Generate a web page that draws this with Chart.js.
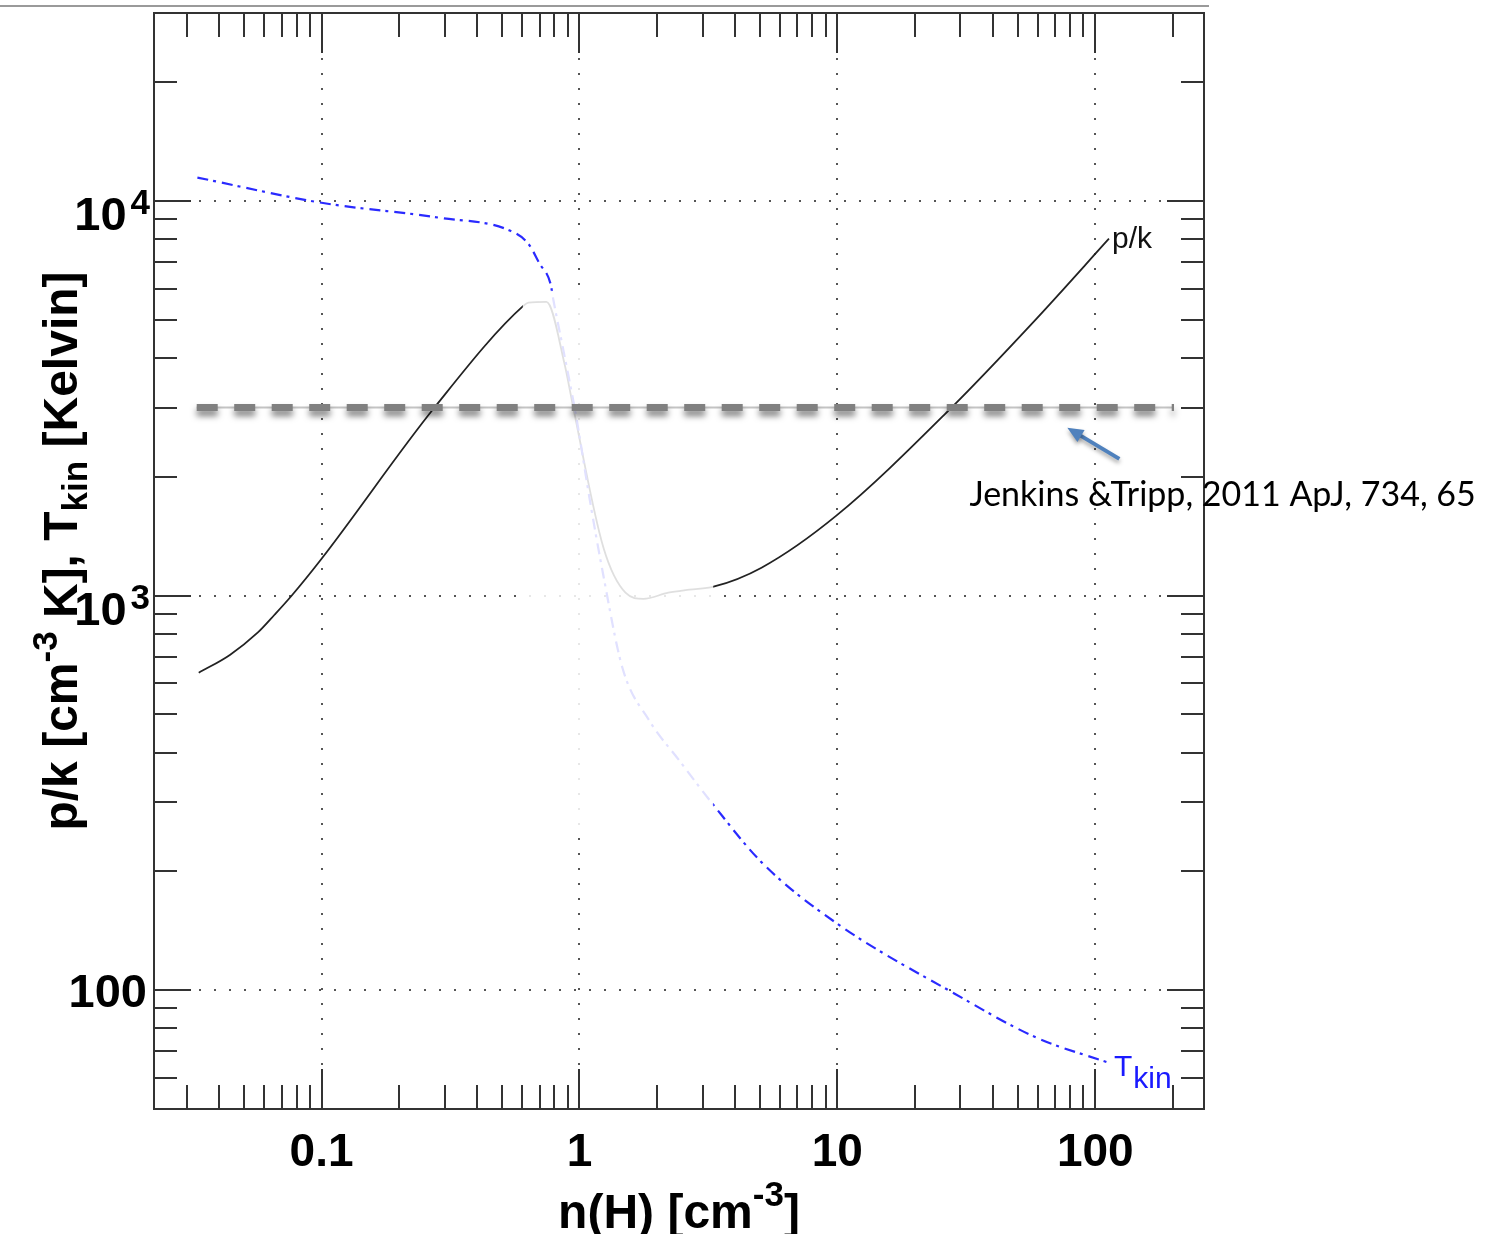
<!DOCTYPE html>
<html>
<head>
<meta charset="utf-8">
<title>p/k and T_kin vs n(H)</title>
<script src="https://cdn.jsdelivr.net/npm/chart.js@4.4.1/dist/chart.umd.min.js"></script>
<style>
  html, body { margin: 0; padding: 0; background: #fff; }
  #wrap { width: 1493px; height: 1234px; position: relative; }
</style>
</head>
<body>
<div id="wrap"><canvas id="chartJSContainer"></canvas></div>
<script>
  // n(H) [cm^-3] and p/k [cm^-3 K]
  var pkDens = [0.0334, 0.0441, 0.0565, 0.0657, 0.0765, 0.1, 0.274, 0.607, 0.634, 0.745, 0.875, 0.948, 1.239, 1.508, 1.77, 2.21, 2.67, 3.31, 5.08, 9.91, 27.4, 59.1, 113]
  var pkVals = [638, 708, 806, 895, 1000, 1241, 3000, 5435, 5535, 5560, 3873, 2978, 1323, 1018, 982, 1018, 1036, 1054, 1178, 1596, 2978, 5035, 8036]

  // n(H) and T_kin [K]
  var tDens = [0.033, 0.1, 0.287, 0.54, 0.634, 0.70, 0.772, 0.793, 0.875, 0.973, 1.093, 1.228, 1.468, 1.867, 2.44, 3.28, 5.12, 9.91, 28.5, 59.0, 115]
  var tVals = [11480, 9910, 9080, 8414, 7797, 6950, 6180, 5600, 4055, 2825, 1772, 1157, 656, 482, 382, 297, 210, 148, 98, 75.9, 65.2]

  // Jenkins & Tripp reference level
  var refDens = [0.0328, 202]
  var refVals = [3000, 3000]

  // axis ranges and labels
  var xRange = [0.0224, 264]
  var yRange = [50, 30000]
  var xLabelVals = [0.1, 1, 10, 100]
  var xLabelText = ['0.1', '1', '10', '100']
  var yLabelVals = [100, 1000, 10000]
  var yLabelBase = ['100', '10', '10']
  var yLabelExp = ['', '3', '4']

  // washed-out region of the picture (data units)
  var fadeDens = [0.603, 3.3]
  var fadeVals = [256, 5930]

  // arrow to the reference line: tail, head
  var arrowDens = [124, 77.9]
  var arrowVals = [2223, 2666]
  var noteDens = 32.5
  var noteVal = 1690
  var noteText = 'Jenkins &Tripp, 2011 ApJ, 734, 65'

  function isDecade(v) {
    var l = Math.log10(v)
    return Math.abs(l - Math.round(l)) < 1e-6
  }

  function logTicks(min, max) {
    var out = []
    for (var e = Math.floor(Math.log10(min)); e <= Math.ceil(Math.log10(max)); e++) {
      for (var k = 1; k <= 9; k++) {
        var v = k * Math.pow(10, e)
        if (v >= min * 0.999 && v <= max * 1.001) out.push(v)
      }
    }
    return out
  }

  var xTickVals = logTicks(xRange[0], xRange[1])
  var yTickVals = logTicks(yRange[0], yRange[1])

  function pts(xs, ys) {
    return xs.map(function (x, i) { return { x: x, y: ys[i] } })
  }

  var BOLD = 'bold 47px "Liberation Sans"'
  var TBOLD = 'bold 48px "Liberation Sans"'
  var TSUP = 'bold 35px "Liberation Sans"'

  function drawPieces(ctx, pieces, x0, y0) {
    var total = 0
    pieces.forEach(function (p) { ctx.font = p.f; p.w = ctx.measureText(p.t).width; total += p.w })
    var x = x0 - total / 2
    pieces.forEach(function (p) {
      ctx.font = p.f
      ctx.fillText(p.t, x, y0 + (p.dy || 0))
      x += p.w
    })
  }

  var decor = {
    id: 'decor',
    beforeDatasetDraw: function (chart, args) {
      if (args.index === 3) {
        var ctx = chart.ctx
        ctx.save()
        ctx.shadowColor = 'rgba(0,0,0,0.5)'
        ctx.shadowBlur = 6
        ctx.shadowOffsetY = 5
      }
    },
    afterDatasetDraw: function (chart, args) {
      var ctx = chart.ctx
      if (args.index === 3) ctx.restore()
      if (args.index === 1) {
        var xs = chart.scales.x, ys = chart.scales.y
        var x1 = xs.getPixelForValue(fadeDens[0]), x2 = xs.getPixelForValue(fadeDens[1])
        var y1 = ys.getPixelForValue(fadeVals[1]), y2 = ys.getPixelForValue(fadeVals[0])
        ctx.save()
        ctx.fillStyle = 'rgba(255,255,255,0.86)'
        ctx.fillRect(x1, y1, x2 - x1, y2 - y1)
        ctx.restore()
      }
    },
    afterDraw: function (chart) {
      var ctx = chart.ctx
      var a = chart.chartArea
      var xs = chart.scales.x, ys = chart.scales.y
      ctx.save()

      // thin rule above the frame
      ctx.strokeStyle = '#9a9a9a'
      ctx.lineWidth = 2
      ctx.beginPath()
      ctx.moveTo(0, a.top - 7)
      ctx.lineTo(a.right + 5, a.top - 7)
      ctx.stroke()

      // frame
      ctx.strokeStyle = '#333'
      ctx.lineWidth = 2
      ctx.strokeRect(a.left, a.top, a.right - a.left, a.bottom - a.top)

      // inward ticks
      ctx.lineWidth = 2
      ctx.beginPath()
      xTickVals.forEach(function (v) {
        var px = Math.round(xs.getPixelForValue(v))
        var len = isDecade(v) ? 40 : 24
        ctx.moveTo(px, a.bottom); ctx.lineTo(px, a.bottom - len)
        ctx.moveTo(px, a.top); ctx.lineTo(px, a.top + len)
      })
      yTickVals.forEach(function (v) {
        var py = Math.round(ys.getPixelForValue(v))
        var len = isDecade(v) ? 37 : 23
        ctx.moveTo(a.left, py); ctx.lineTo(a.left + len, py)
        ctx.moveTo(a.right, py); ctx.lineTo(a.right - len, py)
      })
      ctx.stroke()

      // y tick labels with exponents
      ctx.fillStyle = '#000'
      ctx.textAlign = 'right'
      ctx.textBaseline = 'alphabetic'
      yLabelVals.forEach(function (v, i) {
        var py = ys.getPixelForValue(v)
        if (yLabelExp[i]) {
          var rx = a.left - 4
          ctx.font = 'bold 35px "Liberation Sans"'
          var w = ctx.measureText(yLabelExp[i]).width
          ctx.fillText(yLabelExp[i], rx, py + 13)
          ctx.font = BOLD
          ctx.fillText(yLabelBase[i], rx - w - 4, py + 29)
        } else {
          ctx.font = BOLD
          ctx.fillText(yLabelBase[i], a.left - 7, py + 17)
        }
      })

      // axis titles
      ctx.textAlign = 'left'
      drawPieces(ctx, [
        { t: 'n(H) [cm', f: TBOLD },
        { t: '-3', f: TSUP, dy: -22 },
        { t: ']', f: TBOLD }
      ], (a.left + a.right) / 2, chart.height - 6)

      ctx.save()
      ctx.translate(77, (a.top + a.bottom) / 2 - 10)
      ctx.rotate(-Math.PI / 2)
      drawPieces(ctx, [
        { t: 'p/k [cm', f: TBOLD },
        { t: '-3', f: TSUP, dy: -20 },
        { t: ' K], T', f: TBOLD },
        { t: 'kin', f: TSUP, dy: 10 },
        { t: ' [Kelvin]', f: TBOLD }
      ], 0, 0)
      ctx.restore()

      // curve labels
      var pkEnd = { x: xs.getPixelForValue(pkDens[pkDens.length - 1]), y: ys.getPixelForValue(pkVals[pkVals.length - 1]) }
      ctx.fillStyle = '#111'
      ctx.font = '30px "Liberation Sans"'
      ctx.fillText('p/k', pkEnd.x + 3, pkEnd.y + 9)

      var tEnd = { x: xs.getPixelForValue(tDens[tDens.length - 1]), y: ys.getPixelForValue(tVals[tVals.length - 1]) }
      ctx.fillStyle = '#1a1aff'
      ctx.font = '30px "Liberation Sans"'
      ctx.fillText('T', tEnd.x + 3, tEnd.y + 12)
      var tw = ctx.measureText('T').width
      ctx.fillText('kin', tEnd.x + 3 + tw + 1, tEnd.y + 24)

      // annotation with arrow
      ctx.fillStyle = '#000'
      ctx.font = '34px Lato'
      ctx.fillText(noteText, xs.getPixelForValue(noteDens), ys.getPixelForValue(noteVal))

      var tx = xs.getPixelForValue(arrowDens[0]), ty = ys.getPixelForValue(arrowVals[0])
      var hx = xs.getPixelForValue(arrowDens[1]), hy = ys.getPixelForValue(arrowVals[1])
      var ang = Math.atan2(hy - ty, hx - tx)
      ctx.shadowColor = 'rgba(0,0,0,0.35)'
      ctx.shadowBlur = 4
      ctx.shadowOffsetY = 3
      ctx.strokeStyle = '#4f81bd'
      ctx.fillStyle = '#4f81bd'
      ctx.lineWidth = 4
      ctx.beginPath()
      ctx.moveTo(tx, ty)
      ctx.lineTo(hx - 12 * Math.cos(ang), hy - 12 * Math.sin(ang))
      ctx.stroke()
      ctx.beginPath()
      ctx.moveTo(hx, hy)
      ctx.lineTo(hx - 16 * Math.cos(ang) + 7 * Math.sin(ang), hy - 16 * Math.sin(ang) - 7 * Math.cos(ang))
      ctx.lineTo(hx - 16 * Math.cos(ang) - 7 * Math.sin(ang), hy - 16 * Math.sin(ang) + 7 * Math.cos(ang))
      ctx.closePath()
      ctx.fill()

      ctx.restore()
    }
  }

  var options = {
    type: 'line',
    data: {
      datasets: [
        {
          label: 'p/k',
          data: pts(pkDens, pkVals),
          borderColor: '#222',
          borderWidth: 1.8,
          pointRadius: 0,
          cubicInterpolationMode: 'monotone',
          order: 4
        },
        {
          label: 'T_kin',
          data: pts(tDens, tVals),
          borderColor: '#2a2aff',
          borderWidth: 2.2,
          borderDash: [11, 5, 3, 6],
          pointRadius: 0,
          cubicInterpolationMode: 'monotone',
          order: 3
        },
        {
          label: 'ref thin',
          data: pts(refDens, refVals),
          borderColor: '#c4c4c4',
          borderWidth: 2,
          pointRadius: 0,
          order: 2
        },
        {
          label: 'Jenkins & Tripp 2011',
          data: pts(refDens, refVals),
          borderColor: '#808080',
          borderWidth: 7,
          borderDash: [21, 16.5],
          borderCapStyle: 'butt',
          pointRadius: 0,
          order: 1
        }
      ]
    },
    options: {
      responsive: true,
      maintainAspectRatio: false,
      animation: false,
      devicePixelRatio: 1,
      layout: { padding: { left: 0, right: 289, top: 13, bottom: 0 } },
      plugins: {
        legend: { display: false },
        tooltip: { enabled: false },
        title: { display: false }
      },
      scales: {
        x: {
          type: 'logarithmic',
          position: 'bottom',
          min: xRange[0],
          max: xRange[1],
          afterBuildTicks: function (s) { s.ticks = xTickVals.map(function (v) { return { value: v } }) },
          afterFit: function (s) { s.height = 125 },
          ticks: {
            autoSkip: false,
            maxRotation: 0,
            padding: 17,
            color: '#000',
            font: { family: 'Liberation Sans', size: 46, weight: 'bold' },
            callback: function (value) {
              var i = xLabelVals.findIndex(function (v) { return Math.abs(v - value) / v < 1e-6 })
              return i >= 0 ? xLabelText[i] : ''
            }
          },
          grid: {
            drawTicks: false,
            lineWidth: 2,
            color: function (c) { return c.tick && isDecade(c.tick.value) ? '#555' : 'rgba(0,0,0,0)' }
          },
          border: { display: false, dash: [2, 13] }
        },
        y: {
          type: 'logarithmic',
          min: yRange[0],
          max: yRange[1],
          afterBuildTicks: function (s) { s.ticks = yTickVals.map(function (v) { return { value: v } }) },
          afterFit: function (s) { s.width = 154 },
          ticks: { display: false },
          grid: {
            drawTicks: false,
            lineWidth: 2,
            color: function (c) { return c.tick && isDecade(c.tick.value) ? '#555' : 'rgba(0,0,0,0)' }
          },
          border: { display: false, dash: [2, 13] }
        }
      }
    },
    plugins: [decor]
  }

  var ctx = document.getElementById('chartJSContainer').getContext('2d')
  new Chart(ctx, options)
</script>
</body>
</html>
